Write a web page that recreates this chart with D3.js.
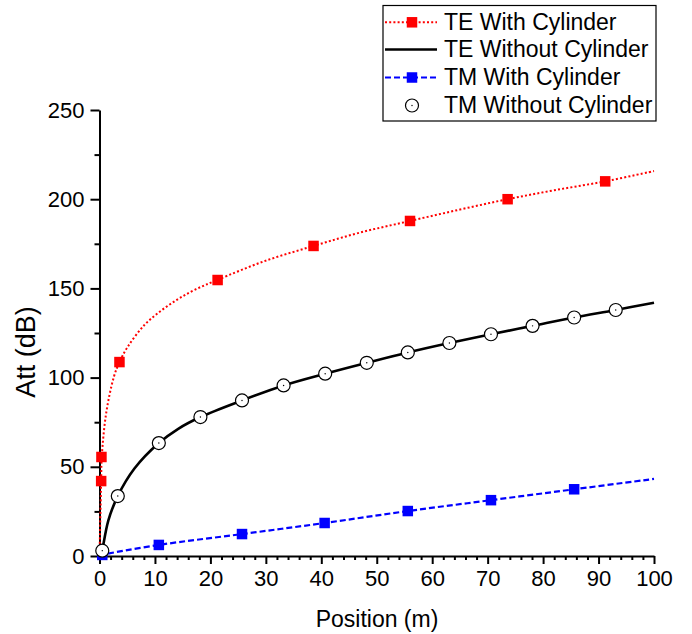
<!DOCTYPE html>
<html><head><meta charset="utf-8">
<script src="https://cdn.jsdelivr.net/npm/d3@7"></script>
<style>body{margin:0;background:#fff}svg{display:block;font-family:"Liberation Sans",Arial,sans-serif}</style>
</head><body>
<script>
// ---- data ----
const xTicks = [0,10,20,30,40,50,60,70,80,90,100];
const yTicks = [0,50,100,150,200,250];
const seriesNames = ["TE With Cylinder","TE Without Cylinder","TM With Cylinder","TM Without Cylinder"];

// TE With Cylinder: curve and markers
const teWithLineX = [0,0.3,0.4,1.2,2.6,3.6,5.1,8.1,11.1,14.1,17.1,21.3,29.5,38.6,47,56,65,73.6,82,91.2,100];
const teWithLineY = [0,42,55,80,100.5,108.7,117.3,129.5,137.5,143.9,149.1,154.8,165,173.8,181.3,187.8,194.2,200,205,210,215.8];
const teWithMarkX = [0.3,0.35,3.6,21.3,38.6,56,73.6,91.2];
const teWithMarkY = [42,55.5,108.7,154.7,173.8,187.8,200,210];

// TE Without Cylinder: curve
const teWithoutX = [0.3,0.5,1.6,3.3,6.3,10.7,14.2,18.2,25.7,33.2,40.7,48.2,55.6,63.1,70.6,78.1,85.6,93.1,100];
const teWithoutY = [0,3,20,33.6,49,63.3,71.3,77.9,87.2,95.6,102.2,108.3,114.1,119.4,124.3,129,133.7,137.9,142];

// TM Without Cylinder: open circle markers
const tmWithoutX = [0.5,3.3,10.7,18.2,25.7,33.2,40.7,48.2,55.6,63.1,70.6,78.1,85.6,93.1];
const tmWithoutY = [3,33.6,63.3,77.9,87.2,95.6,102.2,108.3,114.1,119.4,124.3,129,133.7,137.9];

// TM With Cylinder: dashed line + markers
const tmWithLineX = [0,0.5,10.7,25.7,40.6,55.6,70.6,85.6,100];
const tmWithLineY = [0,0.6,6.2,12.3,18.5,25.2,31.3,37.4,43.2];
const tmWithMarkX = [0.5,10.7,25.7,40.6,55.6,70.6,85.6];
const tmWithMarkY = [0.6,6.2,12.3,18.5,25.2,31.3,37.4];

const zip = (xs, ys) => xs.map((x,i)=>[x, ys[i]]);

const W = 692, H = 634;
const svg = d3.select("body").append("svg").attr("width", W).attr("height", H);
const x = d3.scaleLinear().domain([0,100]).range([99.5,654]);
const y = d3.scaleLinear().domain([0,250]).range([556,110]);

const line = d3.line().x(d=>x(d[0])).y(d=>y(d[1])).curve(d3.curveCatmullRom.alpha(0.5));

// axes
const minorX = d3.range(0,101,2).filter(v=>v%10!==0);
const minorY = d3.range(25,250,50);
const gx = svg.append("g").attr("transform","translate(0,556)");
gx.call(d3.axisBottom(x).tickValues(minorX).tickSize(4).tickSizeOuter(0).tickFormat(""));
gx.call(g=>g.select(".domain").remove());
const gx2 = svg.append("g").attr("transform","translate(0,556)");
gx2.call(d3.axisBottom(x).tickValues(xTicks).tickSize(8).tickSizeOuter(0).tickPadding(6));
gx2.selectAll("text").attr("font-size",22).attr("font-family","Liberation Sans, Arial, sans-serif").attr("fill","#000");
const gy = svg.append("g").attr("transform","translate(99.5,0)");
gy.call(d3.axisLeft(y).tickValues(minorY).tickSize(5).tickSizeOuter(0).tickFormat(""));
gy.call(g=>g.select(".domain").remove());
const gy2 = svg.append("g").attr("transform","translate(99.5,0)");
gy2.call(d3.axisLeft(y).tickValues(yTicks).tickSize(9).tickSizeOuter(0).tickPadding(6));
gy2.selectAll("text").attr("font-size",22).attr("font-family","Liberation Sans, Arial, sans-serif").attr("fill","#000");
svg.selectAll(".domain, .tick line").attr("stroke","#000").attr("stroke-width",2);

// axis titles
svg.append("text").attr("x",377).attr("y",627).attr("text-anchor","middle")
  .attr("font-size",23).text("Position (m)");
svg.append("text").attr("transform","translate(35,352) rotate(-90)").attr("text-anchor","middle")
  .attr("font-size",27).text("Att (dB)");

// TE With Cylinder
svg.append("path").datum(zip(teWithLineX,teWithLineY)).attr("d",line)
  .attr("fill","none").attr("stroke","#ff0000").attr("stroke-width",2).attr("stroke-dasharray","2,2.2");
// TE Without Cylinder
svg.append("path").datum(zip(teWithoutX,teWithoutY)).attr("d",line)
  .attr("fill","none").attr("stroke","#000").attr("stroke-width",2.6);
// TM With Cylinder
svg.append("path").datum(zip(tmWithLineX,tmWithLineY)).attr("d",line)
  .attr("fill","none").attr("stroke","#0000ff").attr("stroke-width",2.2).attr("stroke-dasharray","6,3");

const sq = 10.5;
svg.append("g").selectAll("rect").data(zip(teWithMarkX,teWithMarkY)).join("rect")
  .attr("x",d=>x(d[0])-sq/2).attr("y",d=>y(d[1])-sq/2).attr("width",sq).attr("height",sq).attr("fill","#ff0000");
svg.append("g").selectAll("rect").data(zip(tmWithMarkX,tmWithMarkY)).join("rect")
  .attr("x",d=>x(d[0])-sq/2).attr("y",d=>y(d[1])-sq/2).attr("width",sq).attr("height",sq).attr("fill","#0000ff");
const circ = svg.append("g").selectAll("g").data(zip(tmWithoutX,tmWithoutY)).join("g")
  .attr("transform",d=>`translate(${x(d[0])},${y(d[1])})`);
circ.append("circle").attr("r",6.5).attr("fill","#fff").attr("stroke","#000").attr("stroke-width",1.2);
circ.append("circle").attr("r",0.7).attr("fill","#000");

// legend
const lg = svg.append("g");
lg.append("rect").attr("x",383).attr("y",5.5).attr("width",273).attr("height",115.5)
  .attr("fill","#fff").attr("stroke","#000").attr("stroke-width",1.2);
const rowY = [22.3,49.5,77.5,105.5];
const styles = [
  {stroke:"#ff0000", dash:"2,2.2", w:2, marker:"sq", fill:"#ff0000"},
  {stroke:"#000", dash:null, w:2.6, marker:null},
  {stroke:"#0000ff", dash:"6,3", w:2.2, marker:"sq", fill:"#0000ff"},
  {stroke:null, marker:"circ"}
];
seriesNames.forEach((name,i)=>{
  const s = styles[i], cy = rowY[i];
  if (s.stroke) lg.append("line").attr("x1",385).attr("x2",437).attr("y1",cy).attr("y2",cy)
    .attr("stroke",s.stroke).attr("stroke-width",s.w).attr("stroke-dasharray",s.dash);
  if (s.marker==="sq") lg.append("rect").attr("x",412-sq/2).attr("y",cy-sq/2).attr("width",sq).attr("height",sq).attr("fill",s.fill);
  if (s.marker==="circ"){
    lg.append("circle").attr("cx",412).attr("cy",cy).attr("r",6.5).attr("fill","#fff").attr("stroke","#000").attr("stroke-width",1.2);
    lg.append("circle").attr("cx",412).attr("cy",cy).attr("r",0.7).attr("fill","#000");
  }
  lg.append("text").attr("x",444).attr("y",cy+7.8).attr("font-size",23).text(name);
});
</script>
</body></html>
